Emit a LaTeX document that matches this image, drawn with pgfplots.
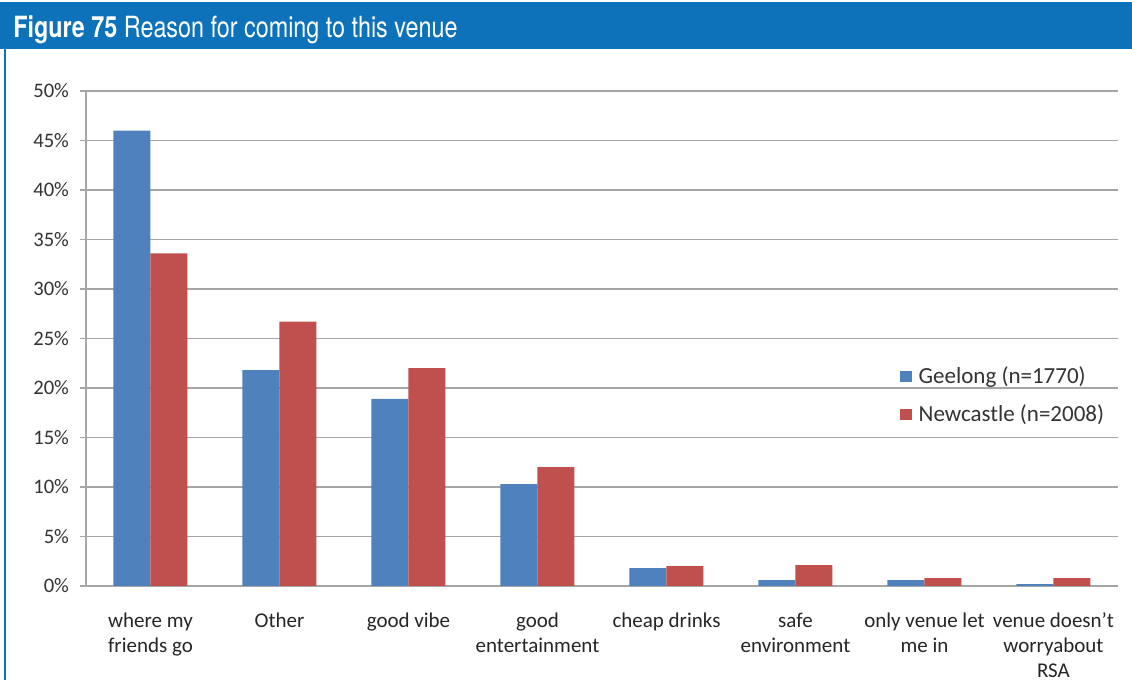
\documentclass[border=0pt]{standalone}
\usepackage{fontspec}
\setmainfont{Carlito}
\newfontfamily\hdr[FakeStretch=0.8]{TeX Gyre Heros}
\usepackage{pgfplots}
\pgfplotsset{compat=1.18}

\definecolor{hdrblue}{HTML}{0D72BA}
\definecolor{gblue}{HTML}{4F81BD}
\definecolor{nred}{HTML}{C0504D}
\definecolor{gridgray}{HTML}{A6A6A6}

% legend square
\pgfplotsset{sqleg/.style={legend image code/.code={\fill[##1] (0pt,-2.8pt) rectangle (5.6pt,2.8pt);}}}

\begin{document}
\begin{tikzpicture}[x=1pt,y=1pt]
\clip (0,0) rectangle (566,340);
\fill[white] (0,0) rectangle (566,340);
% header
\fill[hdrblue] (0,315.5) rectangle (566,339);
\node[anchor=base west, text=white, inner sep=0pt] at (6.5,321)
  {\hdr\fontsize{14.6}{16}\selectfont\textbf{Figure 75} Reason for coming to this venue};
\fill[hdrblue] (2,0) rectangle (3.2,315.5);

\begin{axis}[
  at={(43pt,47pt)}, anchor=south west,
  scale only axis, width=516pt, height=247.5pt,
  ybar=0pt, bar width=18.5pt,
  xmin=-0.5, xmax=7.5, ymin=0, ymax=50,
  axis x line*=bottom, axis y line*=left,
  axis line style={gridgray, line width=0.8pt},
  ytick={0,5,...,50},
  /pgf/number format/assume math mode=true,
  yticklabel={\pgfmathprintnumber{\tick}\%},
  yticklabel style={font=\fontsize{10.3}{12}\selectfont, text=black!80, xshift=-2pt},
  ymajorgrids, grid style={gridgray, line width=0.7pt},
  tick align=outside, major tick length=3pt,
  tick style={gridgray, line width=0.7pt},
  xtick={0,...,7},
  xticklabels={where my\\friends go, Other, good vibe, good\\entertainment, cheap drinks, safe\\environment, only venue let\\me in, venue doesn't\\worryabout\\RSA},
  xticklabel style={font=\fontsize{10.5}{12.5}\selectfont, text=black!85, align=center, anchor=north, yshift=-7pt},
  x tick style={draw=none},
  minor xtick={-0.5,0.5,...,7.5},
  minor x tick style={gridgray, line width=0.7pt},
  minor tick length=3pt,
  legend style={at={(0.783,0.46)}, anchor=north west, draw=none, fill=none,
    font=\fontsize{11.5}{13}\selectfont, text=black!80, row sep=5pt,
    /tikz/every odd column/.append style={column sep=1.5pt}},
  legend cell align=left,
]
\addplot[fill=gblue, draw=none, sqleg] coordinates
  {(0,46.0) (1,21.8) (2,18.9) (3,10.3) (4,1.8) (5,0.6) (6,0.6) (7,0.2)};
\addplot[fill=nred, draw=none, sqleg] coordinates
  {(0,33.6) (1,26.7) (2,22.0) (3,12.0) (4,2.0) (5,2.1) (6,0.8) (7,0.8)};
\legend{Geelong (n=1770), Newcastle (n=2008)}
\end{axis}
\end{tikzpicture}
\end{document}
